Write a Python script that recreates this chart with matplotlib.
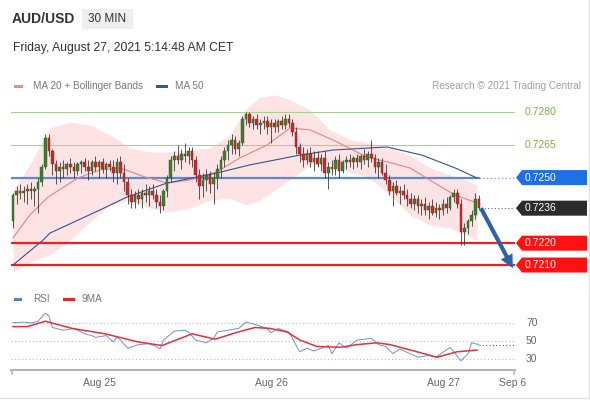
import matplotlib
matplotlib.use("Agg")
import matplotlib.pyplot as plt
from matplotlib.patches import Polygon, Rectangle, FancyArrowPatch

plt.rcParams['font.family'] = ['Liberation Sans', 'DejaVu Sans']

# ---------------- data (30-min AUD/USD candles) ----------------
opens = [0.7230,0.7242,0.7244,0.7243,0.7244,0.7245,0.7244,0.7245,0.7248,0.7255,
         0.7268,0.7262,0.7256,0.7253,0.7255,0.7254,0.7256,0.7255,0.7253,0.7256,
         0.7257,0.7255,0.7253,0.7257,0.7255,0.7257,0.7254,0.7256,0.7255,0.7252,
         0.7257,0.7252,0.7248,0.7242,0.7239,0.7242,0.7240,0.7243,0.7242,0.7244,
         0.7242,0.7239,0.7237,0.7244,0.7250,0.7258,0.7260,0.7258,0.7261,0.7260,
         0.7262,0.7258,0.7251,0.7246,0.7249,0.7251,0.7247,0.7250,0.7254,0.7258,
         0.7262,0.7265,0.7267,0.7263,0.7266,0.7277,0.7279,0.7275,0.7277,0.7274,
         0.7275,0.7276,0.7273,0.7275,0.7273,0.7276,0.7274,0.7277,0.7275,0.7271,
         0.7264,0.7261,0.7258,0.7261,0.7257,0.7259,0.7256,0.7259,0.7252,0.7255,
         0.7254,0.7258,0.7253,0.7257,0.7258,0.7257,0.7259,0.7257,0.7260,0.7258,
         0.7261,0.7259,0.7255,0.7257,0.7252,0.7249,0.7244,0.7246,0.7243,0.7244,
         0.7242,0.7240,0.7238,0.7240,0.7237,0.7238,0.7235,0.7237,0.7234,0.7236,
         0.7235,0.7238,0.7236,0.7241,0.7243,0.7238,0.7225,0.7227,0.7230,0.7233,0.7240]
highs = [0.7243,0.7246,0.7247,0.7246,0.7247,0.7248,0.7246,0.7250,0.7256,0.7270,
         0.7270,0.7263,0.7258,0.7257,0.7258,0.7257,0.7259,0.7257,0.7257,0.7258,
         0.7259,0.7258,0.7258,0.7260,0.7258,0.7259,0.7257,0.7258,0.7258,0.7259,
         0.7260,0.7256,0.7250,0.7245,0.7244,0.7245,0.7245,0.7247,0.7246,0.7247,
         0.7245,0.7242,0.7245,0.7251,0.7260,0.7262,0.7265,0.7263,0.7266,0.7264,
         0.7264,0.7260,0.7254,0.7252,0.7254,0.7253,0.7252,0.7256,0.7260,0.7264,
         0.7267,0.7270,0.7269,0.7267,0.7278,0.7280,0.7280,0.7278,0.7279,0.7277,
         0.7278,0.7278,0.7277,0.7277,0.7277,0.7278,0.7279,0.7279,0.7277,0.7273,
         0.7266,0.7264,0.7263,0.7264,0.7262,0.7262,0.7261,0.7262,0.7257,0.7258,
         0.7260,0.7261,0.7258,0.7260,0.7261,0.7260,0.7261,0.7261,0.7263,0.7262,
         0.7267,0.7261,0.7259,0.7259,0.7256,0.7251,0.7248,0.7249,0.7246,0.7247,
         0.7245,0.7243,0.7242,0.7242,0.7240,0.7241,0.7239,0.7240,0.7239,0.7238,
         0.7240,0.7241,0.7242,0.7245,0.7245,0.7240,0.7229,0.7231,0.7235,0.7243,0.7242]
lows = [0.7227,0.7238,0.7240,0.7239,0.7238,0.7240,0.7237,0.7234,0.7246,0.7254,
        0.7260,0.7251,0.7247,0.7248,0.7250,0.7251,0.7252,0.7250,0.7251,0.7252,
        0.7253,0.7249,0.7251,0.7253,0.7250,0.7252,0.7250,0.7253,0.7248,0.7247,
        0.7250,0.7244,0.7238,0.7236,0.7236,0.7238,0.7236,0.7239,0.7237,0.7240,
        0.7236,0.7234,0.7235,0.7241,0.7248,0.7253,0.7256,0.7254,0.7257,0.7256,
        0.7255,0.7248,0.7240,0.7241,0.7244,0.7243,0.7238,0.7245,0.7250,0.7255,
        0.7258,0.7261,0.7261,0.7260,0.7265,0.7274,0.7273,0.7272,0.7272,0.7270,
        0.7272,0.7270,0.7266,0.7271,0.7271,0.7272,0.7272,0.7273,0.7269,0.7261,
        0.7257,0.7255,0.7256,0.7255,0.7253,0.7255,0.7253,0.7250,0.7245,0.7251,
        0.7251,0.7250,0.7252,0.7254,0.7255,0.7254,0.7255,0.7254,0.7256,0.7255,
        0.7257,0.7252,0.7250,0.7251,0.7247,0.7242,0.7237,0.7242,0.7238,0.7240,
        0.7237,0.7236,0.7235,0.7234,0.7233,0.7233,0.7231,0.7233,0.7232,0.7231,
        0.7233,0.7234,0.7235,0.7239,0.7236,0.7219,0.7219,0.7224,0.7228,0.7231,0.7235]
closes = [0.7242,0.7244,0.7243,0.7244,0.7245,0.7244,0.7245,0.7248,0.7255,0.7268,
          0.7262,0.7256,0.7253,0.7255,0.7254,0.7256,0.7255,0.7253,0.7256,0.7257,
          0.7255,0.7253,0.7257,0.7255,0.7257,0.7254,0.7256,0.7255,0.7252,0.7257,
          0.7252,0.7248,0.7242,0.7239,0.7242,0.7240,0.7243,0.7242,0.7244,0.7242,
          0.7239,0.7237,0.7244,0.7250,0.7258,0.7260,0.7258,0.7261,0.7260,0.7262,
          0.7258,0.7251,0.7246,0.7249,0.7251,0.7247,0.7250,0.7254,0.7258,0.7262,
          0.7265,0.7267,0.7263,0.7266,0.7277,0.7279,0.7275,0.7277,0.7274,0.7275,
          0.7276,0.7273,0.7275,0.7273,0.7276,0.7274,0.7277,0.7275,0.7271,0.7264,
          0.7261,0.7258,0.7261,0.7257,0.7259,0.7256,0.7259,0.7252,0.7255,0.7254,
          0.7258,0.7253,0.7257,0.7258,0.7257,0.7259,0.7257,0.7260,0.7258,0.7261,
          0.7259,0.7255,0.7257,0.7252,0.7249,0.7244,0.7246,0.7243,0.7244,0.7242,
          0.7240,0.7238,0.7240,0.7237,0.7238,0.7235,0.7237,0.7234,0.7236,0.7235,
          0.7238,0.7236,0.7241,0.7243,0.7238,0.7225,0.7227,0.7230,0.7233,0.7240,0.7236]

# moving averages / Bollinger bands (read at candle positions)
ma20_idx = [0, 4.7, 9.8, 18.1, 24.3, 29.9, 36.8, 43.0, 49.4, 56.9, 63.3, 70.9,
            77.3, 82.9, 89.3, 98.8, 104.7, 110.8, 118.6, 123.4, 129.5]
ma20 = [0.72224, 0.72329, 0.72411, 0.72498, 0.72535, 0.72544, 0.72503, 0.72475,
        0.72489, 0.72526, 0.72590, 0.72649, 0.72727, 0.72718, 0.72672, 0.72594,
        0.72571, 0.72544, 0.72466, 0.72420, 0.72384]
ma50_idx = [0, 8.4, 10.3, 24.3, 31.8, 43.0, 56.9, 66.1, 80.1, 89.3, 104.4, 108.0,
            114.1, 123.4, 129.5]
ma50 = [0.72100, 0.72214, 0.72246, 0.72352, 0.72411, 0.72475, 0.72521, 0.72558,
        0.72603, 0.72626, 0.72640, 0.72626, 0.72603, 0.72544, 0.72498]
band_idx = [0, 4.7, 10.3, 15.9, 21.5, 27.1, 32.7, 38.2, 43.8, 49.4, 55.0, 60.6,
            64.8, 68.9, 73.1, 77.3, 82.9, 88.5, 94.1, 99.6, 105.2, 110.8, 116.4,
            122.0, 126.2, 129.5]
band_upper = [0.72443, 0.72558, 0.72727, 0.72754, 0.72741, 0.72695, 0.72635,
              0.72617, 0.72617, 0.72626, 0.72635, 0.72695, 0.72809, 0.72869,
              0.72878, 0.72855, 0.72809, 0.72718, 0.72672, 0.72658, 0.72635,
              0.72603, 0.72544, 0.72512, 0.72489, 0.72466]
band_lower = [0.72068, 0.72114, 0.72146, 0.72214, 0.72297, 0.72375, 0.72397,
              0.72361, 0.72343, 0.72361, 0.72397, 0.72407, 0.72375, 0.72397,
              0.72443, 0.72489, 0.72558, 0.72558, 0.72526, 0.72498, 0.72420,
              0.72329, 0.72283, 0.72269, 0.72237, 0.72214]

levels_green = [0.7280, 0.7265]
level_pivot = 0.7250
last_price = 0.7236
levels_red = [0.7220, 0.7210]
arrow_target = 0.72086

# RSI panel
rsi_idx = [0, 3, 5, 7, 9, 10, 11, 14, 17, 20, 22, 23, 26, 28, 29, 30, 32, 35, 38, 40,
           41, 42, 45, 48, 49, 51, 54, 56, 57, 60, 63, 65, 67, 71, 72, 74, 77, 80, 82, 84,
           88, 89, 91, 93, 96, 100, 102, 104, 106, 108, 113, 116, 118, 122, 125, 127, 128, 130]
rsi_vals = [70.5, 71, 70, 72, 81, 78, 65, 62, 64, 58, 56, 54, 56, 49, 54, 51, 42, 46, 47, 44,
            41, 51, 61, 62, 60, 51, 48, 53, 60, 62, 64, 71, 69, 64, 59, 64, 60, 38, 42, 39,
            45, 36, 48, 42, 51, 53, 46, 44, 36, 41, 32, 34, 32, 43, 28, 36, 48, 46]
ma9_idx = [0, 4, 9, 16.5, 25.7, 34.9, 41.6, 50, 56.4, 62.8, 67.5, 71.7, 76.5, 80.1,
           84.8, 91.3, 96, 101.6, 105.2, 112.8, 118.3, 123.9, 129.5]
ma9_vals = [66, 66, 72, 64, 58, 49, 45, 58, 52, 60, 65, 64, 60, 51, 44, 43, 46, 48, 46,
            38, 32, 38, 40]
rsi_levels = [70, 50, 30]

tick_idx = [24, 72, 120, 139.5]
tick_labels = ['Aug 25', 'Aug 26', 'Aug 27', 'Sep 6']

# ---------------- figure ----------------
W, H = 590, 400
fig = plt.figure(figsize=(W / 100, H / 100), dpi=100)
fig.patch.set_facecolor('white')

X0, X1 = -0.558, 140.1
n = len(closes)
last_i = n - 1

ax = fig.add_axes([11 / W, 1 - 280 / H, 504 / W, 190 / H])
ax.set_xlim(X0, X1)
ax.set_ylim(0.720315, 0.729006)
ax.axis('off')

# Bollinger band fill and MAs
ax.fill_between(band_idx, band_lower, band_upper, color='#fde3e3', lw=0, zorder=1)
for lv in levels_green:
    ax.plot([X0, X1], [lv, lv], color='#a9d18e', lw=0.8, zorder=2)
ax.plot([X0, last_i], [level_pivot] * 2, color='#5b8ad4', lw=1.6, zorder=2)
ax.plot([last_i, X1], [level_pivot] * 2, color='#7c94bf', lw=0.9, ls=(0, (1, 2)), zorder=2)
for lv in levels_red:
    ax.plot([X0, X1], [lv, lv], color='#ee1f1f', lw=1.6, zorder=2)
ax.plot([last_i + 0.5, X1], [last_price] * 2, color='#666666', lw=0.8, ls=(0, (1, 2)), zorder=2)
ax.plot(ma20_idx, ma20, color='#e58585', lw=0.8, zorder=3)
ax.plot(ma50_idx, ma50, color='#34548f', lw=0.8, zorder=3)

# candles
for i in range(n):
    o, h, l, c = opens[i], highs[i], lows[i], closes[i]
    up = c >= o
    ax.plot([i, i], [l, h], color='#3a3a3a', lw=0.6, zorder=4, solid_capstyle='butt')
    ax.bar(i, max(abs(c - o), 0.00003), bottom=min(o, c), width=0.72,
           color='#3f7d32' if up else '#c62a2f',
           edgecolor='#2a5222' if up else '#8e1c20', lw=0.3, zorder=5)

# forecast arrow
arr = FancyArrowPatch((last_i + 0.6, last_price), (139.5, arrow_target),
                      arrowstyle='simple,head_length=0.95,head_width=0.95,tail_width=0.3',
                      mutation_scale=10, color='#2f62a5', lw=0, clip_on=False,
                      shrinkA=0, shrinkB=0, zorder=6)
ax.add_patch(arr)

# RSI panel
ax2 = fig.add_axes([11 / W, 1 - 370 / H, 504 / W, 65 / H])
ax2.set_xlim(X0, X1)
ax2.set_ylim(17.8, 90)
for s in ['top', 'right', 'left']:
    ax2.spines[s].set_visible(False)
ax2.spines['bottom'].set_color('#b5b5b5')
ax2.spines['bottom'].set_linewidth(1.5)
ax2.set_yticks([])
ax2.set_xticks(tick_idx)
ax2.set_xticklabels(tick_labels)
ax2.tick_params(axis='x', length=0, pad=6, labelsize=7.5, labelcolor='#666666')
for xe in (X0 + 0.15, X1 - 0.15):
    ax2.plot([xe, xe], [17.8, 13.0], color='#b5b5b5', lw=1.2, clip_on=False)
for v in rsi_levels:
    ax2.plot([X0, X1], [v, v], color='#bdbdbd', lw=0.8, ls=(0, (1, 2.2)), zorder=1)
ax2.plot(rsi_idx, rsi_vals, color='#7090d6', lw=0.7, zorder=3)
ax2.plot(ma9_idx, ma9_vals, color='#e2323c', lw=1.1, zorder=4)
ax2.plot([rsi_idx[-1], X1], [rsi_vals[-1]] * 2, color='#666666', lw=0.8, ls=(0, (1, 2)), zorder=2)

# ---------------- overlay (pixel coordinates) ----------------
ov = fig.add_axes([0, 0, 1, 1], zorder=10)
ov.set_xlim(0, W)
ov.set_ylim(H, 0)
ov.axis('off')


def ypx(a, v):
    return H - a.transData.transform((0, v))[1]


ov.text(12, 19, 'AUD/USD', fontsize=10, fontweight='bold', color='#333333', va='center')
ov.add_patch(Rectangle((82, 9), 51, 20, fc='#efefef', ec='none'))
ov.text(107.5, 19.5, '30 MIN', fontsize=8.5, color='#333333', ha='center', va='center')
ov.text(13, 48, 'Friday, August 27, 2021 5:14:48 AM CET', fontsize=8.7, color='#333333', va='center')

ov.add_patch(Rectangle((14, 84.5), 9, 3.5, fc='#ee8a8a', ec='none'))
ov.text(33, 86, 'MA 20 + Bollinger Bands', fontsize=7.2, color='#777777', va='center')
ov.add_patch(Rectangle((156, 84.5), 12, 3.5, fc='#2d5b96', ec='none'))
ov.text(175, 86, 'MA 50', fontsize=7.2, color='#777777', va='center')
ov.text(581, 86, 'Research \u00a9 2021 Trading Central', fontsize=7.2, color='#a0a0a0',
        va='center', ha='right')

for lv in levels_green:
    ov.text(525, ypx(ax, lv), f'{lv:.4f}', fontsize=7.5, color='#7cb342', va='center')


def tag(yc, color, text):
    ov.add_patch(Polygon([(516, yc), (522, yc - 7.5), (587, yc - 7.5), (587, yc + 7.5),
                          (522, yc + 7.5)], closed=True, fc=color, ec='none'))
    ov.text(525, yc, text, fontsize=7.5, color='white', va='center')


tag(ypx(ax, level_pivot), '#1f6fe5', f'{level_pivot:.4f}')
tag(ypx(ax, last_price), '#2b2b2b', f'{last_price:.4f}')
for lv in levels_red:
    tag(ypx(ax, lv), '#ff1111', f'{lv:.4f}')

ov.add_patch(Rectangle((14, 297.5), 8, 3.5, fc='#5b7fd0', ec='none'))
ov.text(33, 299, 'RSI', fontsize=7.2, color='#777777', va='center')
ov.add_patch(Rectangle((63, 297.5), 12, 3.5, fc='#e8232a', ec='none'))
ov.text(82, 299, '9MA', fontsize=7.2, color='#777777', va='center')
for v in rsi_levels:
    ov.text(526, ypx(ax2, v), str(v), fontsize=7.5, color='#666666', va='center')

ov.plot([588.5, 588.5], [0, 397.5], color='#e3e3e3', lw=1)
ov.plot([0, 588.5], [397.5, 397.5], color='#e3e3e3', lw=1)

fig.savefig('out.png', dpi=100, facecolor='white')
